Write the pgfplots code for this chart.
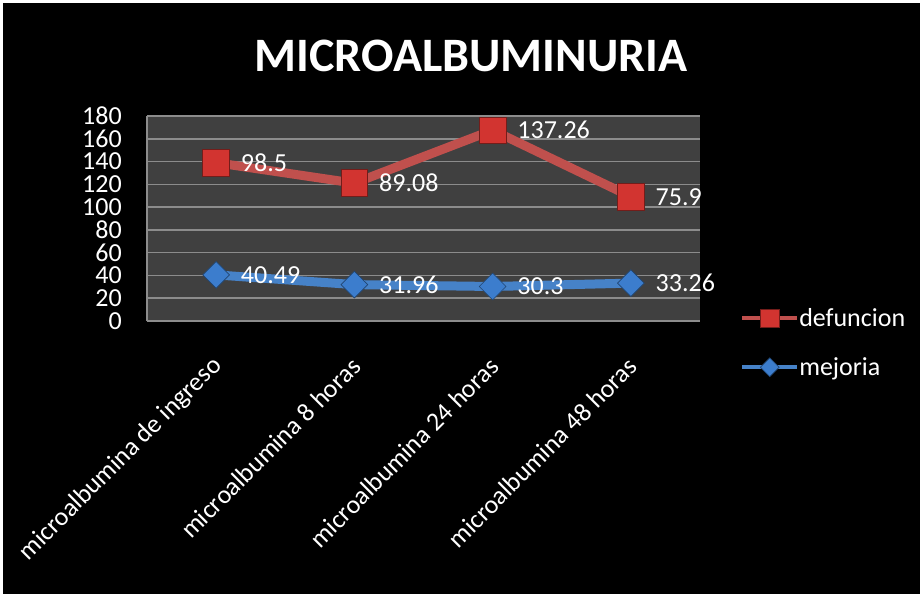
\documentclass[border=0pt]{standalone}
\usepackage{fontspec}
\setmainfont{Carlito}
\usepackage{pgfplots}
\pgfplotsset{compat=1.18}

\definecolor{plotbg}{RGB}{64,64,64}
\definecolor{gridc}{RGB}{140,140,140}
\definecolor{redline}{RGB}{192,80,77}
\definecolor{redmark}{RGB}{210,52,48}
\definecolor{blueline}{RGB}{70,130,200}
\definecolor{bluemark}{RGB}{60,125,205}

\newcommand{\lblfont}{\fontsize{19.5}{22}\selectfont}

\begin{document}
\begin{tikzpicture}[x=0.75pt,y=0.75pt]
% frame (1 unit = 1 px of the reference)
\fill[white] (0,0) rectangle (923,597);
\fill[black] (3,3) rectangle (920,594);
\node[text=white,font=\fontsize{36}{40}\selectfont\bfseries] at (471,541) {MICROALBUMINURIA};

\begin{axis}[
  at={(110.25pt,207pt)}, anchor=south west,
  scale only axis, width=414.75pt, height=153.75pt,
  xmin=-0.5, xmax=3.5, ymin=0, ymax=180,
  xtick={0,1,2,3},
  xticklabels={microalbumina de ingreso, microalbumina 8 horas, microalbumina 24 horas, microalbumina 48 horas},
  ytick={0,20,...,180},
  major tick length=0pt,
  ymajorgrids, grid style={gridc, line width=1.2pt},
  axis x line*=bottom, axis y line*=left,
  axis line style={-, draw=gridc, line width=1.2pt},
  axis background/.style={fill=plotbg},
  ticklabel style={text=white, font=\lblfont, inner sep=0pt},
  /pgf/number format/assume math mode=true,
  yticklabel style={anchor=east, xshift=-18.75pt},
  xticklabel style={xshift=1.5pt, yshift=-30.75pt, rotate=45, anchor=east},
  clip=false,
  stack plots=y,
  point meta=explicit symbolic,
  nodes near coords={\pgfplotspointmeta},
  every node near coord/.append style={anchor=west, xshift=15pt, text=white, font=\lblfont},
  legend style={at={(1.0723,0.0602)}, anchor=north west, draw=none, fill=none,
    text=white, font=\lblfont, inner sep=0pt, row sep=22.75pt,
    nodes={inner sep=0pt, text height=13pt, text depth=0pt},
    /tikz/every even column/.append style={column sep=3.75pt}},
  legend cell align=left,
  reverse legend,
  legend image code/.code={\draw[#1, line width=3pt, mark indices={2}, every mark/.append style={scale=0.7}]
    plot coordinates {(0pt,0pt) (20.625pt,0pt) (41.25pt,0pt)};},
]
\addplot[blueline, line width=6.75pt, mark=square*, mark size=7.1pt,
  mark options={rotate=45, fill=bluemark, draw=bluemark!55!black, line width=0.5pt}]
  coordinates {(0,40.49) [40.49] (1,31.96) [31.96] (2,30.3) [30.3] (3,33.26) [33.26]};
\addlegendentry{mejoria}
\addplot[redline, line width=6.75pt, mark=square*, mark size=10pt,
  mark options={fill=redmark, draw=redmark!55!black, line width=0.5pt}]
  coordinates {(0,98.5) [98.5] (1,89.08) [89.08] (2,137.26) [137.26] (3,75.9) [75.9]};
\addlegendentry{defuncion}
\end{axis}
\end{tikzpicture}
\end{document}
